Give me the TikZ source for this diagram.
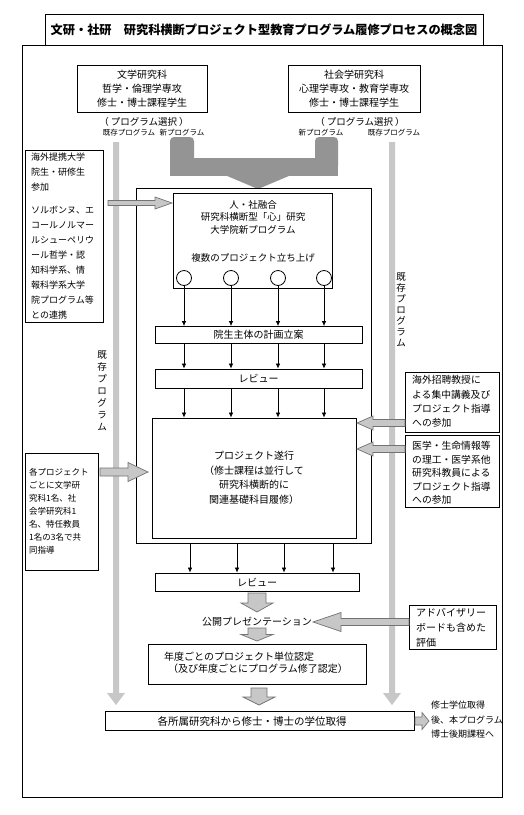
\documentclass[tikz,border=0pt]{standalone}
\usepackage{fontspec}
\setmainfont{Noto Sans CJK JP}
\usetikzlibrary{arrows.meta}
\newcommand{\setfs}[2]{\fontsize{#1}{#2}\selectfont}
\tikzset{
 box/.style={draw, line width=0.8pt, fill=white, inner sep=0pt, align=center},
 txt/.style={inner sep=0pt, align=center},
 ltxt/.style={inner sep=0pt, align=left, anchor=west},
 barfill/.style={fill=black!22, draw=none},
 conn/.style={fill=black!42, draw=none},
 blockarrow/.style={fill=black!22, draw=black!55, line width=0.7pt},
 thinarrow/.style={-{Latex[length=5pt,width=4.5pt]}, line width=0.7pt},
}
\newcommand{\HBlockArrow}[6]{%
 \filldraw[blockarrow] (#1,{#3-#4}) -- ({#2-(#6)},{#3-#4}) -- ({#2-(#6)},{#3-#5}) -- (#2,#3) -- ({#2-(#6)},{#3+#5}) -- ({#2-(#6)},{#3+#4}) -- (#1,{#3+#4}) -- cycle;}
\newcommand{\VBlockArrow}[6]{%
 \filldraw[blockarrow] ({#1-#4},#2) -- ({#1-#4},{#3-(#6)}) -- ({#1-#5},{#3-(#6)}) -- (#1,#3) -- ({#1+#5},{#3-(#6)}) -- ({#1+#4},{#3-(#6)}) -- ({#1+#4},#2) -- cycle;}
\begin{document}
\begin{tikzpicture}[x=1pt,y=-1pt]
\useasboundingbox (0,0) rectangle (523,815);
\fill[white] (0,0) rectangle (523,815);
% outer frame and title
\node[draw, line width=0.9pt, inner sep=0pt, minimum width=480pt, minimum height=752pt] (frame) at (262,421) {};
\node[box, line width=1pt, minimum width=438pt, minimum height=31pt, font=\setfs{12.2}{14}\bfseries] (title) at (264,29.5) {文研・社研　研究科横断プロジェクト型教育プログラム履修プロセスの概念図};
% existing-program bars
\fill[barfill] (113,142) -- (119,142) -- (119,693) -- (125,693) -- (116,705) -- (107,693) -- (113,693) -- cycle;
\fill[barfill] (389,142) -- (395,142) -- (395,693) -- (401,693) -- (392,705) -- (383,693) -- (389,693) -- cycle;
% new-program connector
\fill[conn, rounded corners=4pt] (170,137) rectangle (194,170);
\fill[conn, rounded corners=4pt] (315,137) rectangle (338,170);
\fill[conn] (170,158) rectangle (338,176);
\fill[conn] (226,175.5) -- (290,175.5) -- (258,189) -- cycle;
% top boxes
\node[box, minimum width=130pt, minimum height=47pt, font=\setfs{10}{14}] (lit) at (142,88.5) {文学研究科\\哲学・倫理学専攻\\修士・博士課程学生};
\node[box, minimum width=132pt, minimum height=47pt, font=\setfs{10}{14}] (soc) at (354,88.5) {社会学研究科\\心理学専攻・教育学専攻\\修士・博士課程学生};
\node[txt, font=\setfs{9.5}{11}] (ps1) at (144,122) {（ プログラム選択 ）};
\node[txt, font=\setfs{9.5}{11}] (ps2) at (360,122) {（ プログラム選択 ）};
\node[txt, font=\setfs{7.5}{8}] (ex1) at (129,133) {既存プログラム};
\node[txt, font=\setfs{7.5}{8}] (nw1) at (182,133) {新プログラム};
\node[txt, font=\setfs{7.5}{8}] (nw2) at (321,133) {新プログラム};
\node[txt, font=\setfs{7.5}{8}] (ex2) at (394,133) {既存プログラム};
% vertical labels
\node[txt, font=\setfs{9.5}{12}] (vl) at (102,391) {既\\存\\プ\\ロ\\グ\\ラ\\ム};
\node[txt, font=\setfs{9.5}{11}] (vr) at (401,310) {既\\存\\プ\\ロ\\グ\\ラ\\ム};
% inner frame
\node[draw, line width=0.8pt, inner sep=0pt, minimum width=235pt, minimum height=355pt] (inner) at (253.5,365.5) {};
% new program box
\node[box, minimum width=159pt, minimum height=95pt] (newp) at (252.5,240.5) {};
\node[txt, font=\setfs{9.5}{12.5}] (newpt) at (253,217) {人・社融合\\研究科横断型「心」研究\\大学院新プログラム};
\node[txt, font=\setfs{9.5}{12}] (newpt2) at (253,258) {複数のプロジェクト立ち上げ};
\foreach \i/\x in {1/184,2/231,3/278,4/324}{
 \node[draw, circle, minimum size=15pt, inner sep=0pt, line width=0.8pt, fill=white] (c\i) at (\x,278) {};
}
\node[box, minimum width=207pt, minimum height=17pt, font=\setfs{10}{12}] (plan) at (258.5,335) {院生主体の計画立案};
\node[box, minimum width=207pt, minimum height=19pt, font=\setfs{10}{12}] (rev1) at (258.5,378.5) {レビュー};
\node[box, minimum width=204pt, minimum height=120pt, font=\setfs{10}{14.5}] (proj) at (254,478) {プロジェクト遂行\\（修士課程は並行して\\研究科横断的に\\関連基礎科目履修）};
\node[box, minimum width=204pt, minimum height=18pt, font=\setfs{10}{12}] (rev2) at (257,582) {レビュー};
\node[txt, font=\setfs{10}{12}] (pres) at (257,622) {公開プレゼンテーション};
\node[box, minimum width=218pt, minimum height=40pt] (nendo) at (257,664) {};
\node[ltxt, font=\setfs{10}{11}] (nendo1) at (164,657) {年度ごとのプロジェクト単位認定};
\node[ltxt, font=\setfs{10}{11}] (nendo2) at (168,669) {（及び年度ごとにプログラム修了認定）};
\node[box, minimum width=309pt, minimum height=19pt] (final) at (259.5,720.5) {};
\node[txt, font=\setfs{10.5}{12}] (finalt) at (252,721) {各所属研究科から修士・博士の学位取得};
\node[ltxt, font=\setfs{9}{14.5}] (next) at (431,720) {修士学位取得\\後、本プログラム\\博士後期課程へ};
% side boxes
\node[box, minimum width=78pt, minimum height=172pt] (boxA) at (64,236) {};
\node[ltxt, font=\setfs{9}{15}] (boxA1) at (31,172.5) {海外提携大学\\院生・研修生\\参加};
\node[ltxt, font=\setfs{9}{15}] (boxA2) at (31,262.5) {ソルボンヌ、エ\\コールノルマー\\ルシューペリウ\\ール哲学・認\\知科学系、情\\報科学系大学\\院プログラム等\\との連携};
\node[box, minimum width=73pt, minimum height=117pt] (boxB) at (61.5,511.5) {};
\node[ltxt, font=\setfs{8.5}{13}] (boxBt) at (29,511) {各プロジェクト\\ごとに文学研\\究科1名、社\\会学研究科1\\名、特任教員\\1名の3名で共\\同指導};
\node[box, minimum width=94pt, minimum height=60pt] (boxC) at (452,402) {};
\node[ltxt, font=\setfs{9.8}{14.3}] (boxCt) at (412,401.5) {海外招聘教授に\\よる集中講義及び\\プロジェクト指導\\への参加};
\node[box, minimum width=94pt, minimum height=72pt] (boxD) at (452,471) {};
\node[ltxt, font=\setfs{9.8}{13.5}] (boxDt) at (412,473) {医学・生命情報等\\の理工・医学系他\\研究科教員による\\プロジェクト指導\\への参加};
\node[box, minimum width=87pt, minimum height=44pt] (adv) at (452.5,627) {};
\node[ltxt, font=\setfs{10}{15}] (advt) at (416,628) {アドバイザリー\\ボードも含めた\\評価};
% thin arrows
\foreach \i in {1,2,3,4}{
 \draw[thinarrow] (c\i.south) -- (c\i.south |- plan.north);
 \draw[thinarrow] (plan.south -| c\i) -- (rev1.north -| c\i);
 \draw[thinarrow] (rev1.south -| c\i) -- (proj.north -| c\i);
}
\foreach \i/\x in {1/190,2/237,3/284,4/333}{
 \coordinate (d\i) at (\x,560);
 \draw[thinarrow] (inner.south -| d\i) -- (rev2.north -| d\i);
}
% block arrows
\HBlockArrow{108}{172}{203}{2.5}{6}{17}
\HBlockArrow{100}{148}{472}{4}{9.5}{20}
\HBlockArrow{405}{357}{423}{3.5}{7}{-16}
\HBlockArrow{405}{357}{449}{3.5}{7}{-16}
\HBlockArrow{409}{313}{622}{3.5}{9.5}{-28}
\HBlockArrow{415}{429}{721}{4}{8.5}{7}
\VBlockArrow{257}{593}{612}{9}{16}{9}
\VBlockArrow{257}{628}{641}{9}{16}{6.5}
\VBlockArrow{259}{688}{705}{8}{16}{8}
\end{tikzpicture}
\end{document}
